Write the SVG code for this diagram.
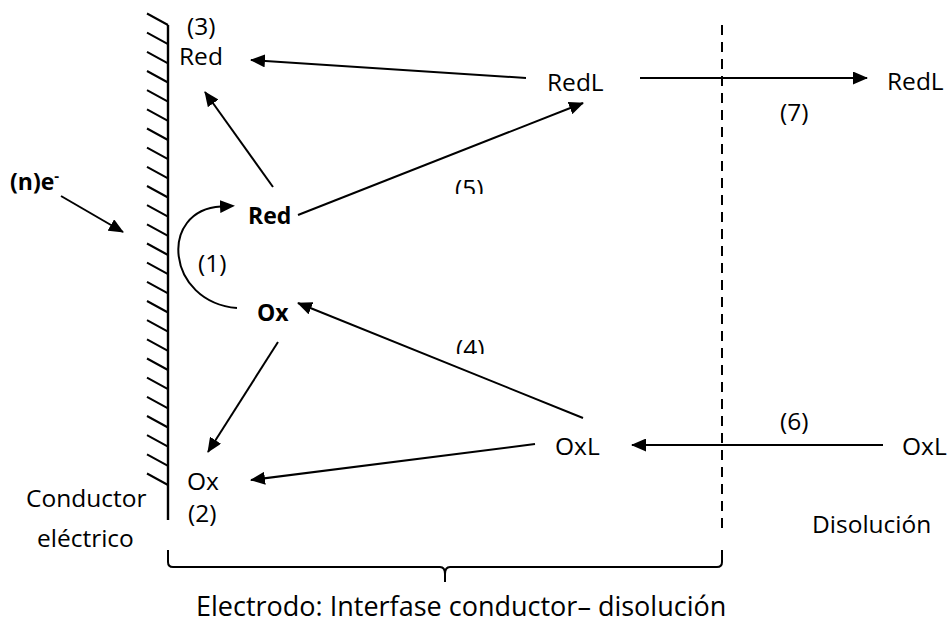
<svg xmlns="http://www.w3.org/2000/svg" width="947" height="625" viewBox="0 0 947 625">
<style>
text{font-family:"Open Sans","Noto Sans",sans-serif;font-size:24.5px;fill:#000}
text.b{font-weight:bold;font-size:23px}
text.big{font-size:27px}
.sup{font-size:15px}
.ln{stroke:#000;stroke-width:2;fill:none}
.wall{stroke:#000;stroke-width:2.4;fill:none}
.dash{stroke:#000;stroke-width:2;stroke-dasharray:10 7;fill:none}
</style>
<defs>
<marker id="ah" viewBox="0 0 15 13" refX="14" refY="6.5" markerWidth="15" markerHeight="13" orient="auto" markerUnits="userSpaceOnUse"><path d="M0,0 L15,6.5 L0,13 z" fill="#000"/></marker>
<marker id="ah0" viewBox="0 0 15 13" refX="1" refY="6.5" markerWidth="15" markerHeight="13" orient="auto" markerUnits="userSpaceOnUse"><path d="M0,0 L15,6.5 L0,13 z" fill="#000"/></marker>
<clipPath id="c5"><rect x="440" y="160" width="70" height="34"/></clipPath>
<clipPath id="c4"><rect x="440" y="320" width="70" height="34"/></clipPath>
</defs>
<g id="conductor-wall">
<path class="wall" d="M168,25 V520"/>
<path class="ln" d="M168,25 l-21,-11.5 M168,44.2 l-21,-11.5 M168,63.3 l-21,-11.5 M168,82.5 l-21,-11.5 M168,101.7 l-21,-11.5 M168,120.8 l-21,-11.5 M168,140 l-21,-11.5 M168,159.2 l-21,-11.5 M168,178.3 l-21,-11.5 M168,197.5 l-21,-11.5 M168,216.7 l-21,-11.5 M168,235.8 l-21,-11.5 M168,255 l-21,-11.5 M168,274.2 l-21,-11.5 M168,293.3 l-21,-11.5 M168,312.5 l-21,-11.5 M168,331.7 l-21,-11.5 M168,350.8 l-21,-11.5 M168,370 l-21,-11.5 M168,389.2 l-21,-11.5 M168,408.3 l-21,-11.5 M168,427.5 l-21,-11.5 M168,446.7 l-21,-11.5 M168,465.8 l-21,-11.5 M168,485 l-21,-11.5"/>
</g>
<g id="interface-line"><path class="dash" d="M722,25 V533"/></g>
<g id="bracket"><path class="ln" d="M168,550 V562 Q168,567 173,567 H440 Q445,567 445,574 V582 M445,574 Q445,567 450,567 H717 Q722,567 722,562 V550"/></g>
<g id="connectors">
<path class="ln" marker-end="url(#ah)" d="M526,78 L251,60"/>
<path class="ln" marker-end="url(#ah)" d="M273,187 L205,92"/>
<path class="ln" marker-end="url(#ah)" d="M298,215 L583,103"/>
<path class="ln" marker-end="url(#ah)" d="M640,78 L867,78"/>
<path class="ln" marker-end="url(#ah)" d="M61,196 L123,232"/>
<path class="ln" marker-end="url(#ah0)" d="M237,308 C166,302 158,210 221,206.5"/>
<path class="ln" marker-end="url(#ah)" d="M278,342 L208,452"/>
<path class="ln" marker-end="url(#ah)" d="M583,418 L298,303"/>
<path class="ln" marker-end="url(#ah)" d="M535,444 L251,480"/>
<path class="ln" marker-end="url(#ah)" d="M883,445 L632,445"/>
</g>
<g id="red-adsorbed"><text><tspan x="187" y="35">(3)</tspan><tspan x="179" y="65">Red</tspan></text></g>
<g id="redL"><text x="547" y="91">RedL</text></g>
<g id="redL-solution"><text x="887" y="90">RedL</text></g>
<g id="step7"><text x="780" y="121">(7)</text></g>
<g id="electrons"><text class="b" x="10" y="190">(n)e<tspan class="sup" dy="-9">-</tspan></text></g>
<g id="red-surface"><text class="b" x="248" y="224">Red</text></g>
<g id="step5"><text x="455" y="197" clip-path="url(#c5)">(5)</text></g>
<g id="step1"><text x="198" y="272">(1)</text></g>
<g id="ox-surface"><text class="b" x="257" y="321">Ox</text></g>
<g id="step4"><text x="456" y="357" clip-path="url(#c4)">(4)</text></g>
<g id="step6"><text x="780" y="430">(6)</text></g>
<g id="oxL"><text x="555" y="455">OxL</text></g>
<g id="oxL-solution"><text x="902" y="455">OxL</text></g>
<g id="ox-adsorbed"><text><tspan x="187" y="490">Ox</tspan><tspan x="188" y="522">(2)</tspan></text></g>
<g id="conductor-label"><text x="26" y="507">Conductor</text><text x="37" y="547">eléctrico</text></g>
<g id="solution-label"><text x="812" y="533">Disolución</text></g>
<g id="electrode-label"><text class="big" x="196" y="616">Electrodo: Interfase conductor– disolución</text></g>
</svg>
